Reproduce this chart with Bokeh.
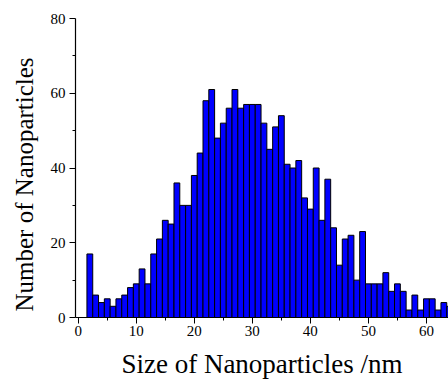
from bokeh.plotting import figure
from bokeh.models import FixedTicker, Range1d, Title
from bokeh.embed import file_html
from bokeh.resources import INLINE

# Histogram data: bin centres (nm) and counts
sizes = list(range(2, 65))
counts = [17, 6, 4, 5, 3, 5, 6, 8, 9, 13, 9, 17, 21, 26, 25, 36, 30, 30, 38, 44,
          58, 61, 48, 52, 56, 61, 56, 57, 57, 57, 52, 45, 51, 54, 41, 40, 42, 32,
          29, 40, 26, 37, 24, 14, 21, 22, 10, 23, 9, 9, 9, 12, 7, 9, 7, 2, 6, 2,
          5, 5, 2, 4, 3]
x_ticks = [0, 10, 20, 30, 40, 50, 60]
x_minor = [5, 15, 25, 35, 45, 55]
y_ticks = [0, 20, 40, 60, 80]
y_minor = [10, 30, 50, 70]
x_title = "Size of Nanoparticles /nm"
y_title = "Number of Nanoparticles"

FONT = "Liberation Serif"

p = figure(width=448, height=381, output_backend="svg", toolbar_location=None,
           x_range=Range1d(-0.47, 63.8), y_range=Range1d(0, 80),
           min_border_left=75, min_border_right=0, min_border_top=18,
           min_border_bottom=63)
p.outline_line_color = None
p.xgrid.visible = False
p.ygrid.visible = False
p.background_fill_color = "white"
p.border_fill_color = "white"

p.vbar(x=sizes, top=counts, width=1, fill_color="#0000ff",
       line_color="#000000", line_width=1)

for ax, ticks, minor in ((p.xaxis[0], x_ticks, x_minor), (p.yaxis[0], y_ticks, y_minor)):
    ax.ticker = FixedTicker(ticks=ticks, minor_ticks=minor)
    ax.axis_line_color = "black"
    ax.axis_line_width = 1.2
    ax.major_tick_line_color = "black"
    ax.minor_tick_line_color = "black"
    ax.major_tick_in = 0
    ax.major_tick_out = 6
    ax.minor_tick_in = 0
    ax.minor_tick_out = 3
    ax.major_label_text_font = FONT
    ax.major_label_text_font_size = "15px"
    ax.major_label_text_color = "black"

p.xaxis.major_label_standoff = 2
p.xaxis.axis_label = x_title
p.xaxis.axis_label_text_font = FONT
p.xaxis.axis_label_text_font_size = "27px"
p.xaxis.axis_label_text_font_style = "normal"
p.xaxis.axis_label_text_color = "black"
p.xaxis.axis_label_standoff = 10
p.yaxis.major_label_standoff = 4

# y title as a side title so that it can sit lower than the frame centre
p.add_layout(Title(text=y_title, align="left", offset=6, vertical_align="top",
                   standoff=16, text_font=FONT, text_font_size="25px",
                   text_font_style="normal", text_color="black"), "left")

open("out.html", "w").write(file_html(p, INLINE))
